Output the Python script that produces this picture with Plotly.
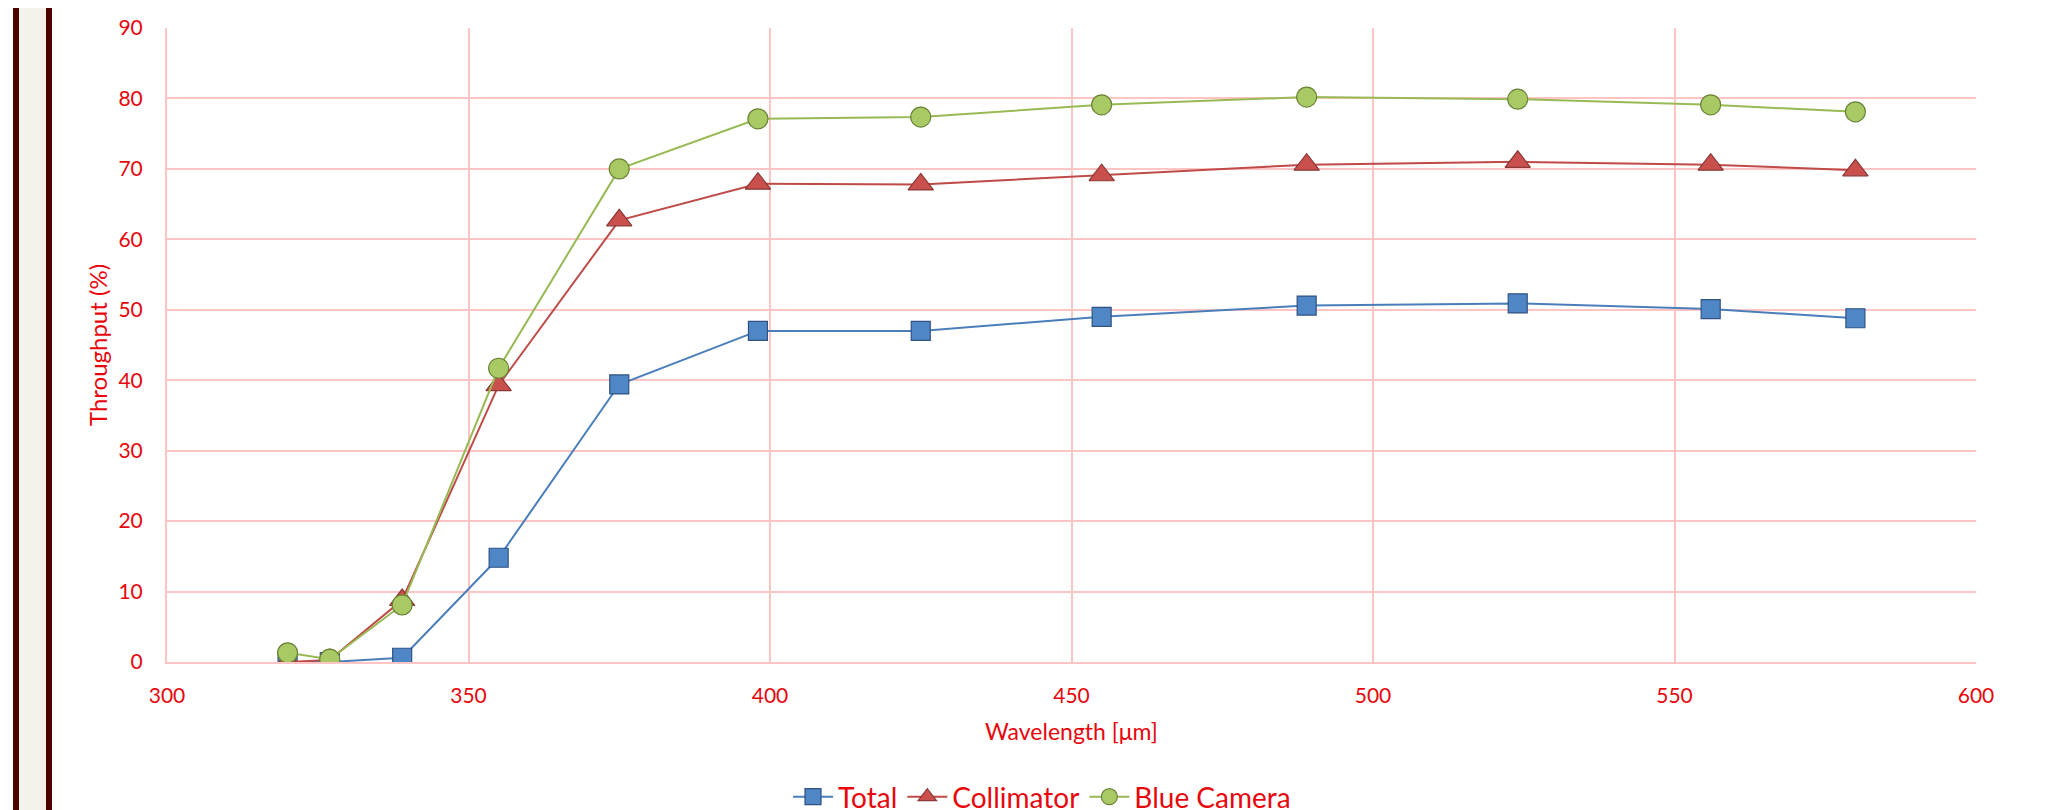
import plotly.graph_objects as go

wavelength = [320, 327, 339, 355, 375, 398, 425, 455, 489, 524, 556, 580]
total = [0.0, 0.0, 0.6, 14.8, 39.4, 47.0, 47.0, 49.0, 50.6, 50.9, 50.1, 48.8]
collimator = [0.0, 0.3, 8.8, 39.3, 62.7, 67.9, 67.8, 69.1, 70.6, 71.0, 70.6, 69.8]
blue_camera = [1.3, 0.4, 8.1, 41.7, 70.0, 77.1, 77.35, 79.1, 80.2, 79.9, 79.1, 78.1]

x_ticks = [300, 350, 400, 450, 500, 550, 600]
y_ticks = [0, 10, 20, 30, 40, 50, 60, 70, 80, 90]

FONT = "Lato"
RED = "#e8060c"
GRID = "#ffc4c4"

fig = go.Figure()

fig.add_trace(go.Scatter(
    x=wavelength, y=total, name="Total", mode="lines+markers",
    line=dict(color="#4a7ebb", width=2),
    marker=dict(symbol="square", size=19, color="#4f86c6",
                line=dict(color="#2f5283", width=1.2)),
))
fig.add_trace(go.Scatter(
    x=wavelength, y=collimator, name="Collimator", mode="lines+markers",
    line=dict(color="#be4b48", width=2),
    marker=dict(symbol="triangle-up", size=22, color="#c9504c",
                line=dict(color="#8c3836", width=1.2)),
))
fig.add_trace(go.Scatter(
    x=wavelength, y=blue_camera, name="Blue Camera", mode="lines+markers",
    line=dict(color="#98b954", width=2),
    marker=dict(symbol="circle", size=20, color="#a9c965",
                line=dict(color="#6a8336", width=1.2)),
))

# page offset (body margin) compensation
OFF = 8
W, H = 2067, 810
L, T = 167 - OFF, 28 - OFF
R = W - (1976 - OFF)
B = H - (662 - OFF)
pw = W - L - R
ph = H - T - B

def px2paper(px):
    return (px - OFF - L) / pw

fig.add_shape(type="rect", xref="paper", yref="paper",
              x0=px2paper(19), x1=px2paper(46), y0=-1, y1=2,
              fillcolor="#f5f2ec", line=dict(width=0), layer="below")
for a, b in [(13, 19), (46, 52)]:
    fig.add_shape(type="rect", xref="paper", yref="paper",
                  x0=px2paper(a), x1=px2paper(b), y0=-1, y1=2,
                  fillcolor="#4d0000", line=dict(width=0), layer="below")

fig.update_layout(
    width=W, height=H,
    margin=dict(l=L, r=R, t=T, b=B, autoexpand=False),
    paper_bgcolor="white", plot_bgcolor="white",
    font=dict(family=FONT, size=20, color=RED),
    showlegend=True,
    legend=dict(orientation="h", xref="paper", x=px2paper(1042), xanchor="center",
                yref="container", y=1 - (797 - OFF) / H, yanchor="middle",
                font=dict(family=FONT, size=28, color=RED),
                itemwidth=40, tracegroupgap=0),
    xaxis=dict(
        range=[300, 600], tickvals=x_ticks, ticktext=[str(v) for v in x_ticks],
        showgrid=True, gridcolor=GRID, gridwidth=1.5,
        showline=True, linecolor=GRID, linewidth=2, mirror=False,
        zeroline=False, automargin=False,
        ticks="outside", ticklen=14, tickcolor="rgba(0,0,0,0)",
        tickfont=dict(family=FONT, size=21, color=RED),
        title=dict(text="Wavelength [μm]", font=dict(family=FONT, size=23, color=RED), standoff=18),
    ),
    yaxis=dict(
        range=[0, 90], tickvals=y_ticks, ticktext=[str(v) for v in y_ticks],
        showgrid=True, gridcolor=GRID, gridwidth=1.5,
        showline=True, linecolor=GRID, linewidth=2,
        zeroline=False, automargin=False,
        ticks="outside", ticklen=18, tickcolor="rgba(0,0,0,0)",
        tickfont=dict(family=FONT, size=21, color=RED),
        title=dict(text="Throughput (%)", font=dict(family=FONT, size=24, color=RED), standoff=4),
    ),
)

fig.write_html("out.html")
